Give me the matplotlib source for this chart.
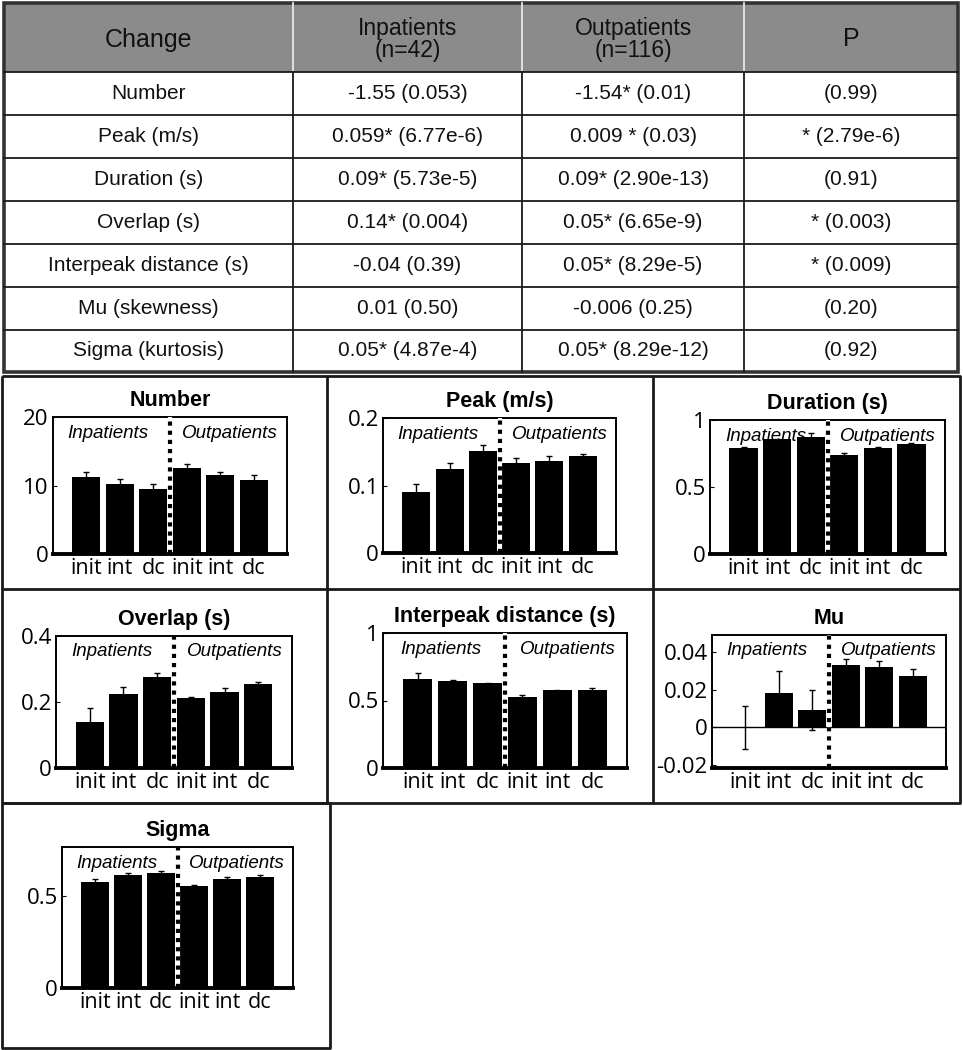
import matplotlib.pyplot as plt
import matplotlib.transforms as mtransforms
from matplotlib.patches import Rectangle

W, H = 963, 1050

# table contents
col_head = ["Change", "Inpatients\n(n=42)", "Outpatients\n(n=116)", "P"]
changes = ["Number", "Peak (m/s)", "Duration (s)", "Overlap (s)",
           "Interpeak distance (s)", "Mu (skewness)", "Sigma (kurtosis)"]
inpat = ["-1.55 (0.053)", "0.059* (6.77e-6)", "0.09* (5.73e-5)", "0.14* (0.004)",
         "-0.04 (0.39)", "0.01 (0.50)", "0.05* (4.87e-4)"]
outpat = ["-1.54* (0.01)", "0.009 * (0.03)", "0.09* (2.90e-13)", "0.05* (6.65e-9)",
          "0.05* (8.29e-5)", "-0.006 (0.25)", "0.05* (8.29e-12)"]
pvals = ["(0.99)", "* (2.79e-6)", "(0.91)", "* (0.003)", "* (0.009)", "(0.20)", "(0.92)"]

# bar panels
groups = ["init", "int", "dc", "init", "int", "dc"]
number_mean = [11.2, 10.2, 9.5, 12.5, 11.5, 10.8]
number_err = [0.7, 0.7, 0.7, 0.7, 0.4, 0.7]
peak_mean = [0.091, 0.124, 0.151, 0.133, 0.137, 0.144]
peak_err = [0.011, 0.009, 0.009, 0.008, 0.007, 0.003]
duration_mean = [0.79, 0.856, 0.871, 0.737, 0.79, 0.821]
duration_err = [0.012, 0.005, 0.03, 0.013, 0.01, 0.01]
overlap_mean = [0.139, 0.224, 0.276, 0.211, 0.231, 0.255]
overlap_err = [0.044, 0.02, 0.013, 0.005, 0.012, 0.006]
interpeak_mean = [0.659, 0.642, 0.627, 0.526, 0.575, 0.575]
interpeak_err = [0.045, 0.012, 0.003, 0.012, 0.003, 0.018]
mu_mean = [0.0, 0.0181, 0.0092, 0.0329, 0.0318, 0.0274]
mu_err = [0.0115, 0.0116, 0.0104, 0.0036, 0.0034, 0.0034]
sigma_mean = [0.578, 0.617, 0.626, 0.556, 0.594, 0.606]
sigma_err = [0.015, 0.009, 0.013, 0.009, 0.012, 0.011]

narrow = ["Liberation Sans Narrow", "Liberation Sans", "DejaVu Sans"]

fig = plt.figure(figsize=(W / 100, H / 100), dpi=100)
bg = fig.add_axes([0, 0, 1, 1])
bg.set_xlim(0, W)
bg.set_ylim(H, 0)
bg.axis("off")

# ---- table ----
xs = [4, 293, 522, 744, 958]
ys = [3, 72, 115, 158, 201, 244, 287, 330, 372]
bg.add_patch(Rectangle((xs[0], ys[0]), xs[-1] - xs[0], ys[1] - ys[0],
                       facecolor="#8b8b8b", edgecolor="none"))
for x in xs[1:-1]:
    bg.plot([x, x], [ys[0], ys[1]], color="#e6e6e6", lw=1.3)
    bg.plot([x, x], [ys[1], ys[-1]], color="#1a1a1a", lw=1.3)
for y in ys[1:-1]:
    bg.plot([xs[0], xs[-1]], [y, y], color="#1a1a1a", lw=1.3)
bg.add_patch(Rectangle((xs[0], ys[0]), xs[-1] - xs[0], ys[-1] - ys[0],
                       facecolor="none", edgecolor="#333333", lw=2.6))

for j, txt in enumerate(col_head):
    cx = (xs[j] + xs[j + 1]) / 2
    bg.text(cx, (ys[0] + ys[1]) / 2 + 2, txt, ha="center", va="center",
            fontsize=16.5 if "\n" in txt else 18, family=narrow,
            color="#111111", linespacing=1.0)

cols = [changes, inpat, outpat, pvals]
for j, col in enumerate(cols):
    cx = (xs[j] + xs[j + 1]) / 2
    for i, txt in enumerate(col):
        cy = (ys[i + 1] + ys[i + 2]) / 2
        bg.text(cx, cy, txt, ha="center", va="center", fontsize=15,
                family=narrow, color="#111111")

# ---- panel frames ----
frame_kw = dict(color="#1a1a1a", lw=2.0, solid_capstyle="butt")
bg.plot([2, 960, 960, 2, 2], [376, 376, 803, 803, 376], **frame_kw)
bg.plot([2, 960], [589, 589], **frame_kw)
bg.plot([327, 327], [376, 803], **frame_kw)
bg.plot([653, 653], [376, 803], **frame_kw)
bg.plot([2, 330, 330, 2, 2], [803, 803, 1048, 1048, 803], **frame_kw)


def add_panel(box, title, mean, err, ylim, yticks, yticklabels, zero_line=False):
    l, t, r, b = box
    ax = fig.add_axes([l / W, 1 - b / H, (r - l) / W, (b - t) / H])
    pos = list(range(1, len(groups) + 1))
    ax.bar(pos, mean, width=0.84, color="black", zorder=2)
    ax.errorbar(pos, mean, yerr=err, fmt="none", ecolor="black",
                elinewidth=1.0, capsize=2.5, capthick=1.0, zorder=3)
    if zero_line:
        ax.axhline(0, color="black", lw=1.0, zorder=1)
    ax.plot([3.5, 3.5], ylim, color="white", lw=3, zorder=4)
    ax.plot([3.5, 3.5], ylim, color="black", lw=3,
            linestyle=(0, (1, 1.2)), zorder=5)
    ax.set_xlim(0, 7)
    ax.set_ylim(*ylim)
    ax.set_xticks(pos)
    ax.set_xticklabels(groups, family="Open Sans", fontsize=15.5)
    ax.set_yticks(yticks)
    ax.set_yticklabels(yticklabels, family="Open Sans", fontsize=16)
    ax.tick_params(axis="x", length=0, pad=3)
    ax.tick_params(axis="y", length=3, direction="in", pad=3)
    for s in ["top", "right", "left"]:
        ax.spines[s].set_linewidth(1.4)
    ax.spines["bottom"].set_linewidth(2.8)
    ax.set_title(title, fontsize=15.5, fontweight="bold",
                 family="Liberation Sans", pad=8)
    tr = mtransforms.blended_transform_factory(ax.transData, ax.transAxes)
    ax.text(1.65, 0.88, "Inpatients", transform=tr, ha="center", va="center",
            fontsize=13.5, style="italic", family=narrow, zorder=6)
    ax.text(5.3, 0.88, "Outpatients", transform=tr, ha="center", va="center",
            fontsize=13.5, style="italic", family=narrow, zorder=6)
    return ax


add_panel((53, 417, 287, 554), "Number", number_mean, number_err,
          (0, 20), [0, 10, 20], ["0", "10", "20"])
add_panel((383, 418, 616, 553), "Peak (m/s)", peak_mean, peak_err,
          (0, 0.2), [0, 0.1, 0.2], ["0", "0.1", "0.2"])
add_panel((710, 420, 945, 554), "Duration (s)", duration_mean, duration_err,
          (0, 1), [0, 0.5, 1], ["0", "0.5", "1"])
add_panel((56, 636, 292, 768), "Overlap (s)", overlap_mean, overlap_err,
          (0, 0.4), [0, 0.2, 0.4], ["0", "0.2", "0.4"])
add_panel((383, 633, 627, 768), "Interpeak distance (s)", interpeak_mean,
          interpeak_err, (0, 1), [0, 0.5, 1], ["0", "0.5", "1"])
add_panel((712, 635, 946, 768), "Mu", mu_mean, mu_err,
          (-0.0215, 0.049), [-0.02, 0, 0.02, 0.04],
          ["-0.02", "0", "0.02", "0.04"], zero_line=True)
add_panel((62, 847, 293, 988), "Sigma", sigma_mean, sigma_err,
          (0, 0.77), [0, 0.5], ["0", "0.5"])

fig.savefig("out.png", dpi=100)
